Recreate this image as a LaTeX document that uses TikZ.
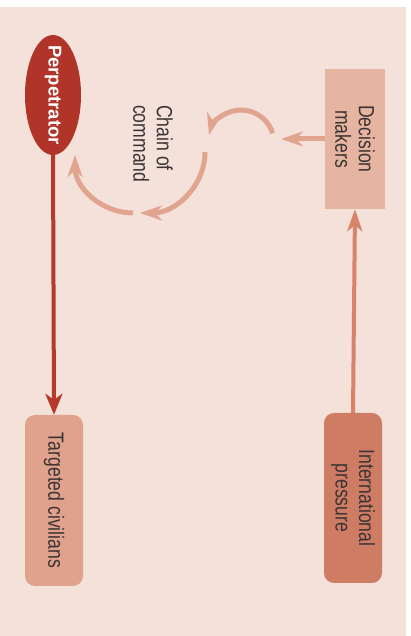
\documentclass[tikz,border=0pt]{standalone}
\usepackage{fontspec}
\setmainfont{Liberation Sans}
\newfontfamily\narrowfont[FakeStretch=0.8]{Liberation Sans}
\usetikzlibrary{arrows.meta,shapes.geometric}

\definecolor{bgpink}{HTML}{F4E1DA}
\definecolor{perpred}{HTML}{B03428}
\definecolor{civfill}{HTML}{E0A28D}
\definecolor{intfill}{HTML}{CF7C65}
\definecolor{decfill}{HTML}{E6B5A2}
\definecolor{redline}{HTML}{B53A2B}
\definecolor{intline}{HTML}{D8836C}
\definecolor{chainline}{HTML}{E1A48F}
\definecolor{labelgray}{HTML}{3C3434}

\begin{document}
\begin{tikzpicture}[x=1pt,y=1pt,
  boxtext/.style={font=\narrowfont\fontsize{22}{23.5}\selectfont, text=labelgray,
    align=center, rotate=-90, inner sep=0pt},
  perpnode/.style={ellipse, fill=perpred, minimum width=120pt, minimum height=56pt,
    rotate=-90, text=white, font=\bfseries\fontsize{18.5}{20}\selectfont,
    inner xsep=-10pt, inner ysep=0pt},
  roundbox/.style={boxtext, rounded corners=10pt, minimum width=171pt, minimum height=58pt},
  decbox/.style={boxtext, fill=decfill, minimum width=140pt, minimum height=60pt},
  redarrow/.style={draw=redline, line width=4pt, -{Stealth[length=21pt,width=17pt,inset=6pt]}},
  intarrow/.style={draw=intline, line width=4pt, -{Stealth[length=22pt,width=15pt,inset=6pt]}},
  chainarrow/.style={draw=chainline, line width=5pt, -{Stealth[length=22pt,width=15pt,inset=7pt]}}
]
\useasboundingbox (0,0) rectangle (410,636);
\fill[bgpink] (0,0) rectangle (406,629);

% nodes
\node[perpnode] (p) at (53,541) {Perpetrator};
\node[roundbox, fill=civfill] (t) at (54,135.5) {Targeted civilians};
\node[roundbox, fill=intfill, minimum width=170pt] (i) at (353,138) {International\\pressure};
\node[decbox] (d) at (355,497) {Decision\\makers};
\node[boxtext, align=left, anchor=west] (c) at (153,531) {Chain of\\command};

% connectors
\draw[redarrow] (p.east) -- (t.west);
\draw[intarrow] (i.west) -- (d.east);
\coordinate (dtip) at (281,497);
\draw[chainarrow] (d.south) -- (dtip);

% chain of command loops
\coordinate (a1) at (272.6,502.6);
\coordinate (a2) at (205,484);
\coordinate (a3) at (133,423);
\draw[chainarrow] (a1) arc[start angle=17, end angle=166, radius=33pt];
\draw[chainarrow] (a2) arc[start angle=0, end angle=-90, x radius=65pt, y radius=61pt];
\draw[chainarrow] (a3) arc[start angle=-90, end angle=-180, x radius=58pt, y radius=58pt];
\end{tikzpicture}
\end{document}
